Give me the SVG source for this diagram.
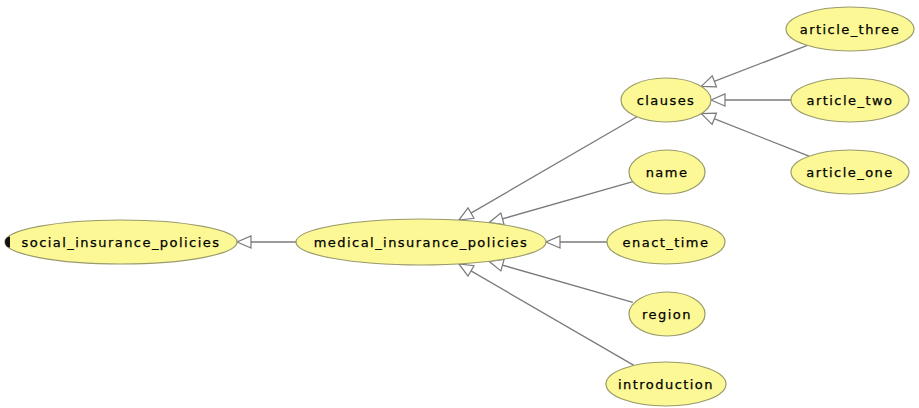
<svg xmlns="http://www.w3.org/2000/svg" width="919" height="408" viewBox="0 0 919 408">
  <style>
    .node ellipse { fill: #fbf895; stroke: #9a9a6a; stroke-width: 1.2; }
    .node text { font-family: "DejaVu Sans", "Liberation Sans", sans-serif; font-size: 13px; letter-spacing: 1.45px; fill: #000000; text-anchor: middle; dominant-baseline: central; stroke: #000000; stroke-width: 0.25; }
    .edges line { stroke: #7a7a7a; stroke-width: 1.3; marker-end: url(#hollow); }
  </style>
  <defs>
    <!-- hollow triangle: subclass arrow pointing to the parent -->
    <marker id="hollow" markerUnits="userSpaceOnUse" markerWidth="18" markerHeight="16" refX="15" refY="7" orient="auto">
      <path d="M1,1 L15,7 L1,13 Z" fill="#ffffff" stroke="#7a7a7a" stroke-width="1.2"/>
    </marker>
  </defs>
  <rect width="919" height="408" fill="#ffffff"/>

  <g class="edges">
    <line x1="296" y1="242" x2="237" y2="242"/>
    <line x1="637" y1="116.8" x2="458.9" y2="220.1"/>
    <line x1="632.9" y1="181.7" x2="489" y2="222.7"/>
    <line x1="607" y1="242" x2="546" y2="242"/>
    <line x1="632.9" y1="302.3" x2="489" y2="261.3"/>
    <line x1="633.9" y1="365.4" x2="458.9" y2="263.9"/>
    <line x1="807.4" y1="45.4" x2="701.3" y2="86.4"/>
    <line x1="791" y1="100" x2="711" y2="100"/>
    <line x1="809" y1="156.2" x2="701.3" y2="113.6"/>
  </g>

  <g id="social_insurance_policies" class="node">
    <ellipse cx="121" cy="242" rx="116" ry="22"/>
    <path d="M10,236.5 A5,5.5 0 0 0 10,247.5 Z" fill="#111111"/>
    <text x="121" y="242">social_insurance_policies</text>
  </g>
  <g id="medical_insurance_policies" class="node">
    <ellipse cx="421" cy="242" rx="125" ry="23"/>
    <text x="421" y="242">medical_insurance_policies</text>
  </g>
  <g id="clauses" class="node">
    <ellipse cx="666" cy="100" rx="45" ry="22"/>
    <text x="666" y="100">clauses</text>
  </g>
  <g id="name" class="node">
    <ellipse cx="667" cy="172" rx="38" ry="22"/>
    <text x="667" y="172">name</text>
  </g>
  <g id="enact_time" class="node">
    <ellipse cx="666" cy="242" rx="59" ry="22"/>
    <text x="666" y="242">enact_time</text>
  </g>
  <g id="region" class="node">
    <ellipse cx="667" cy="314" rx="38" ry="22"/>
    <text x="667" y="314">region</text>
  </g>
  <g id="introduction" class="node">
    <ellipse cx="666" cy="384" rx="60" ry="22"/>
    <text x="666" y="384">introduction</text>
  </g>
  <g id="article_three" class="node">
    <ellipse cx="850" cy="29" rx="64" ry="22"/>
    <text x="850" y="29">article_three</text>
  </g>
  <g id="article_two" class="node">
    <ellipse cx="850" cy="100" rx="59" ry="22"/>
    <text x="850" y="100">article_two</text>
  </g>
  <g id="article_one" class="node">
    <ellipse cx="850" cy="172" rx="59" ry="22"/>
    <text x="850" y="172">article_one</text>
  </g>
</svg>
